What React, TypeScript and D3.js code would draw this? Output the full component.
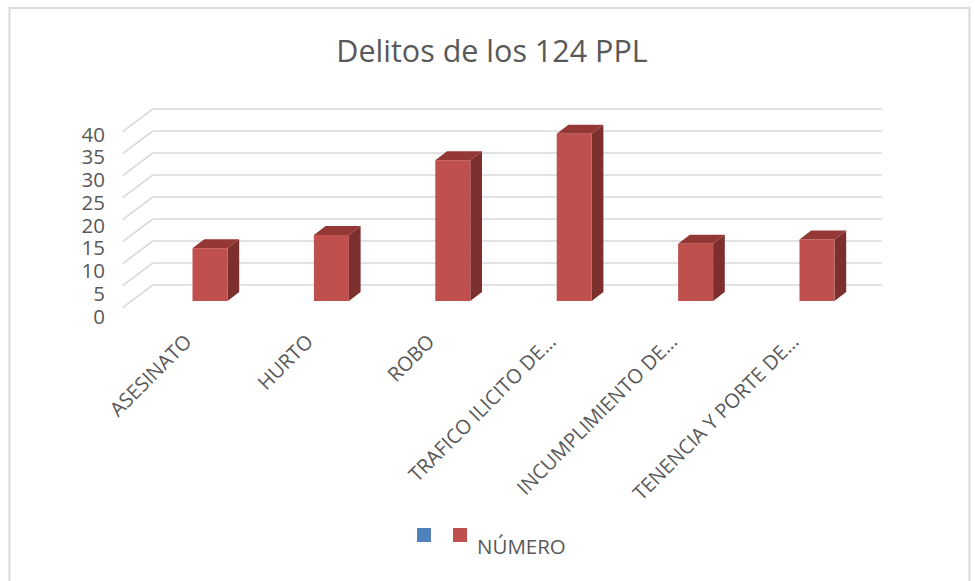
import * as d3 from "d3"

const categories = ["ASESINATO", "HURTO", "ROBO", "TRAFICO ILICITO DE…", "INCUMPLIMIENTO DE…", "TENENCIA Y PORTE DE…"]
const numero = [12, 15, 32, 38, 13, 14]
const yTicks = [0, 5, 10, 15, 20, 25, 30, 35, 40]
const title = "Delitos de los 124 PPL"
const seriesName = "NÚMERO"

const W = 975
const H = 581
const font = "'Open Sans', sans-serif"
const textColor = "#595959"
const grid = "#d9d9d9"

// oblique offset of the side wall (back -> front)
const wallDx = -30
const wallDy = 22.7
// bar depth (front -> back)
const depthDx = 11.7
const depthDy = -9
const barW = 35

export default function App() {
    const yBack = d3.scaleLinear().domain([0, 40]).range([285, 109])
    const yBar = d3.scaleLinear().domain([0, 40]).range([301, 125])
    const yLabel = d3.scaleLinear().domain([0, 40]).range([315.5, 133.5])
    const x = d3.scaleBand().domain(categories).range([149.3, 877.7]).padding(0)
    const wallLeft = 152.7
    const wallRight = 881.7

    return (
        <svg width={W} height={H} style={{ position: "absolute", left: 0, top: 0 }} fontFamily={font}>
            <rect x={0} y={0} width={W} height={H} fill="white" />
            <rect x={9.5} y={8} width={960} height={640} fill="none" stroke={grid} strokeWidth={2} />

            <text x={492} y={62} textAnchor="middle" fontSize={30.5} fill={textColor}>{title}</text>

            {/* gridlines: back wall + side wall */}
            <g stroke={grid} strokeWidth={1.6} fill="none">
                {yTicks.map((t) => (
                    <path key={t} d={`M${wallLeft + wallDx},${yBack(t) + wallDy}L${wallLeft},${yBack(t)}H${wallRight}`} />
                ))}
            </g>

            {yTicks.map((t) => (
                <text key={t} x={105} y={yLabel(t)} textAnchor="end" dominantBaseline="central" fontSize={20.5} fill={textColor}>{t}</text>
            ))}

            {/* bars */}
            {categories.map((c, i) => {
                const x0 = (x(c) ?? 0) + x.bandwidth() / 2 - barW / 2
                const x1 = x0 + barW
                const yt = yBar(numero[i])
                const yb = yBar(0)
                return (
                    <g key={c}>
                        <path d={`M${x1},${yt}L${x1 + depthDx},${yt + depthDy}V${yb + depthDy}L${x1},${yb}Z`} fill="#7c2f2d" />
                        <path d={`M${x0},${yt}L${x0 + depthDx},${yt + depthDy}H${x1 + depthDx}L${x1},${yt}Z`} fill="#943835" />
                        <rect x={x0} y={yt} width={barW} height={yb - yt} fill="#c0504d" />
                    </g>
                )
            })}

            {/* category labels */}
            {categories.map((c) => {
                const cx = (x(c) ?? 0) + x.bandwidth() / 2
                const ax = cx - 17
                const ay = 343
                return (
                    <text key={c} x={ax} y={ay} transform={`rotate(-45 ${ax} ${ay})`} textAnchor="end" fontSize={20} fill={textColor}>{c}</text>
                )
            })}

            {/* legend */}
            <rect x={417} y={528} width={14} height={14} fill="#4f81bd" />
            <rect x={453} y={528} width={14} height={14} fill="#c0504d" />
            <text x={477} y={554} fontSize={20.5} fill={textColor}>{seriesName}</text>
        </svg>
    )
}
